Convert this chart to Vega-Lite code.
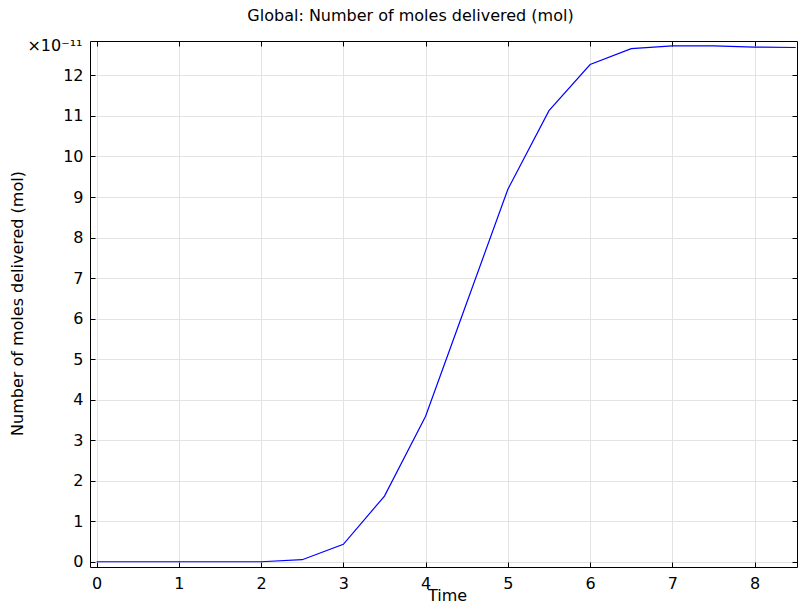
{
  "$schema": "https://vega.github.io/schema/vega-lite/v6.json",
  "width": 707,
  "height": 526,
  "autosize": {"type": "none"},
  "padding": {"left": 90, "top": 41, "right": 1, "bottom": 37},
  "background": "white",
  "title": {"text": "Global: Number of moles delivered (mol)", "font": "DejaVu Sans", "fontSize": 16, "fontWeight": "normal", "color": "black", "anchor": "middle", "dx": -33, "offset": 13},
  "config": {
    "view": {"stroke": null},
    "axis": {"labelFont": "DejaVu Sans", "titleFont": "DejaVu Sans", "labelFontSize": 16, "titleFontSize": 16, "titleFontWeight": "normal", "labelColor": "black", "titleColor": "black", "domainColor": "black", "tickColor": "black", "gridColor": "#e3e3e3", "tickSize": -5, "domainWidth": 1, "tickWidth": 1}
  },
  "data": {"values": [
    {"t": 0, "n": 0},
    {"t": 0.5, "n": 0},
    {"t": 1, "n": 0},
    {"t": 1.5, "n": 0},
    {"t": 2, "n": 0},
    {"t": 2.5, "n": 0.05},
    {"t": 3, "n": 0.43},
    {"t": 3.5, "n": 1.62},
    {"t": 4, "n": 3.59},
    {"t": 4.5, "n": 6.39},
    {"t": 5, "n": 9.19},
    {"t": 5.5, "n": 11.13},
    {"t": 6, "n": 12.27},
    {"t": 6.5, "n": 12.66},
    {"t": 7, "n": 12.73},
    {"t": 7.5, "n": 12.73},
    {"t": 8, "n": 12.7},
    {"t": 8.5, "n": 12.69}
  ]},
  "resolve": {"axis": {"x": "independent", "y": "independent"}},
  "layer": [
    {
      "mark": {"type": "line", "color": "#0000ff", "strokeWidth": 1.2, "clip": true},
      "encoding": {
        "x": {"field": "t", "type": "quantitative", "scale": {"domain": [-0.08, 8.515], "nice": false, "zero": false},
          "axis": {"orient": "bottom", "values": [0,1,2,3,4,5,6,7,8], "grid": true, "labelPadding": 13, "title": "Time", "titleX": 357, "titleY": 28.5, "titleBaseline": "middle", "titleAnchor": null}},
        "y": {"field": "n", "type": "quantitative", "scale": {"domain": [-0.13, 12.85], "nice": false, "zero": false},
          "axis": {"orient": "left", "values": [0,1,2,3,4,5,6,7,8,9,10,11,12], "grid": true, "labelPadding": 12, "title": "Number of moles delivered (mol)", "titleX": -73, "titleY": 262, "titleAngle": -90, "titleBaseline": "middle", "titleAlign": "center"}}
      }
    },
    {
      "mark": {"type": "line", "opacity": 0},
      "encoding": {
        "x": {"field": "t", "type": "quantitative",
          "axis": {"orient": "top", "values": [0,1,2,3,4,5,6,7,8], "grid": false, "labels": false, "title": "×10⁻¹¹", "titleX": -8, "titleY": 9, "titleAlign": "right", "titleBaseline": "alphabetic", "titleAngle": 0, "titleFontSize": 16}},
        "y": {"field": "n", "type": "quantitative",
          "axis": {"orient": "right", "values": [0,1,2,3,4,5,6,7,8,9,10,11,12], "grid": false, "labels": false, "title": null}}
      }
    }
  ]
}
